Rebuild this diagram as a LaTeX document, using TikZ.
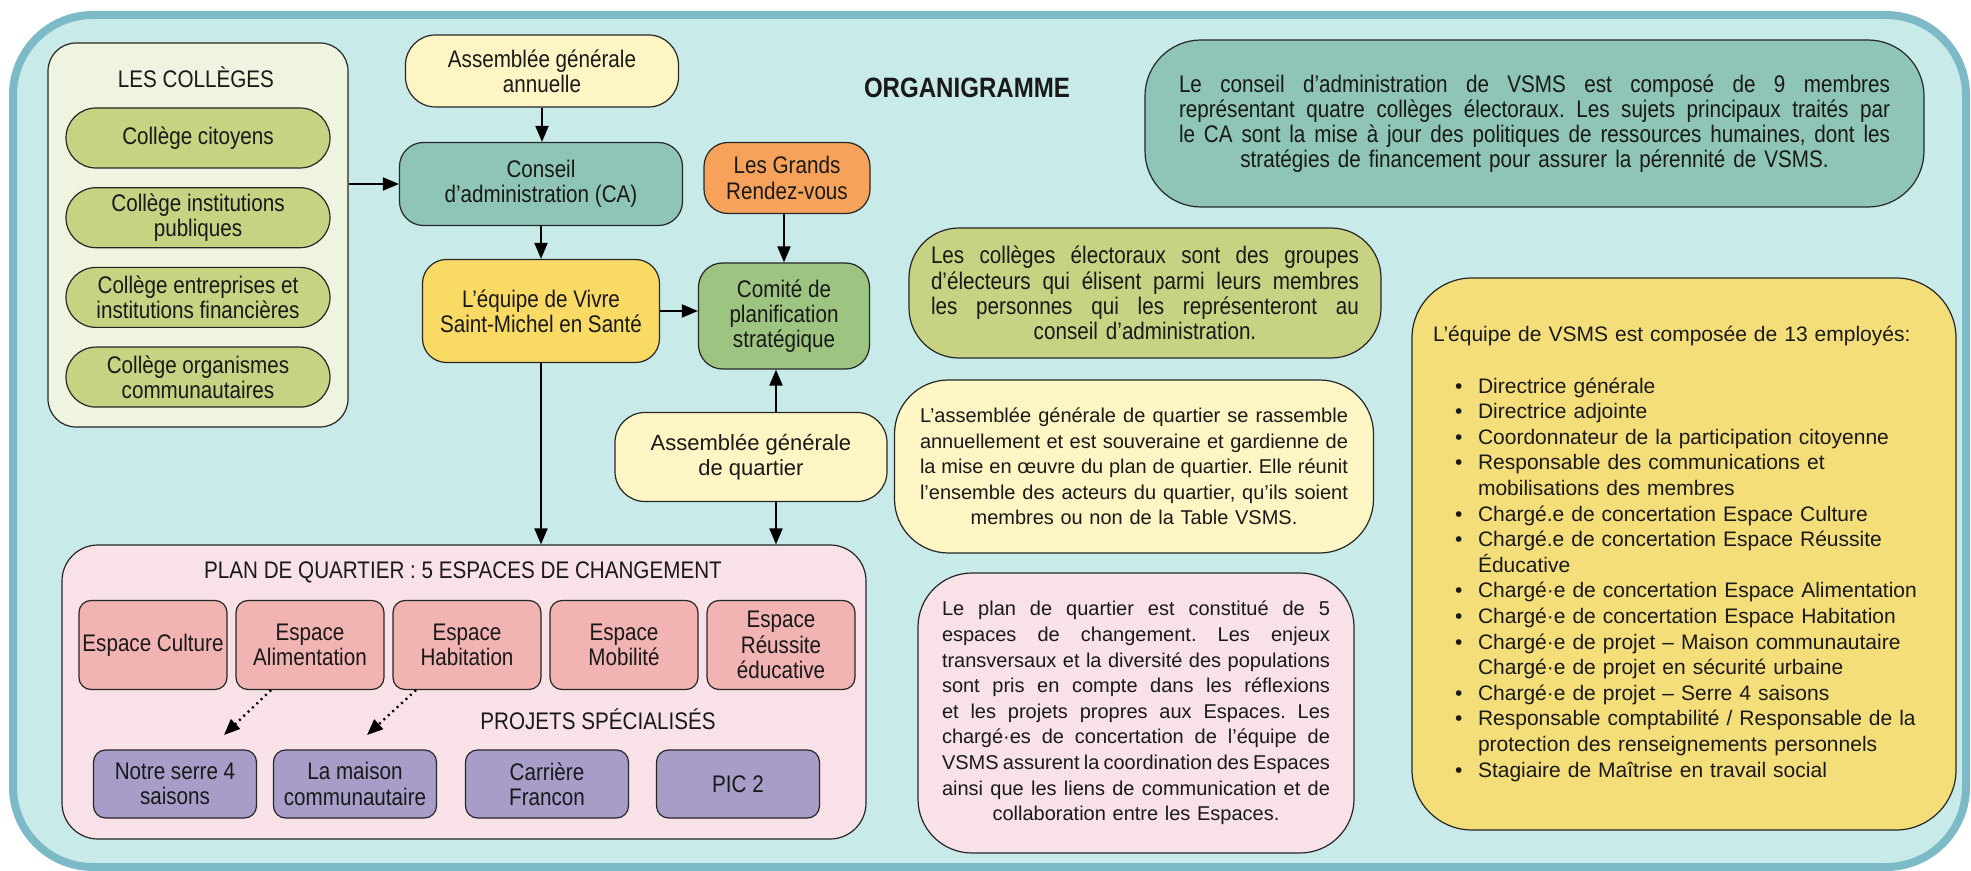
\documentclass[tikz,border=0pt]{standalone}
\usepackage{fontspec}
\setmainfont{Liberation Sans}
\newfontfamily\condfont[FakeStretch=0.86]{Liberation Sans}
\usetikzlibrary{arrows.meta, positioning}

\definecolor{cadre}{HTML}{7DBAC8}
\definecolor{fond}{HTML}{C8EAE9}
\definecolor{creme}{HTML}{EFF4E0}
\definecolor{olive}{HTML}{C8D283}
\definecolor{jaunepale}{HTML}{FDF5C3}
\definecolor{sarcelle}{HTML}{8EC5B6}
\definecolor{jaune}{HTML}{F9DA65}
\definecolor{orangegr}{HTML}{F7A25B}
\definecolor{vert}{HTML}{9DC581}
\definecolor{rose}{HTML}{F8E2E7}
\definecolor{saumon}{HTML}{F2B3B3}
\definecolor{lavande}{HTML}{A89DC9}
\definecolor{ocre}{HTML}{F4DE79}

\frenchspacing
\newcommand\condtxt{\condfont\fontsize{12pt}{12.6pt}\selectfont}
\newcommand\regtxt{\fontsize{10pt}{12.8pt}\selectfont}
% ligne justifiee (tikz fige les espaces avec align=center)
\newcommand\jline[1]{{\spaceskip=0pt\xspaceskip=0pt\makebox[\hsize][s]{#1}}}

\begin{document}
\begin{tikzpicture}[
  x=0.5pt, y=-0.5pt,
  box/.style={draw=black!85, line width=0.6pt, rounded corners=12pt, align=center,
              font=\condtxt, text=black!90, inner sep=2pt},
  capsule/.style={box, rounded corners=15pt},
  college/.style={capsule, fill=olive, minimum width=132pt, minimum height=30pt},
  espace/.style={box, fill=saumon, rounded corners=6pt, inner sep=1pt,
                 minimum width=74pt, minimum height=44.5pt},
  projet/.style={box, fill=lavande, rounded corners=6pt, minimum width=81.5pt, minimum height=34pt},
  panel/.style={draw=black!85, line width=0.6pt, rounded corners=14pt},
  note/.style={box, rounded corners=27pt, font=\regtxt},
  lbl/.style={font=\condtxt, text=black!90},
  arr/.style={-{Triangle[length=8pt,width=6.5pt]}, line width=1pt},
  dotarr/.style={arr, dotted, line width=1.2pt}
]
\useasboundingbox (0,0) rectangle (1971,871);
\draw[cadre, fill=fond, line width=4pt, rounded corners=40pt] (13,15) rectangle (1966,867);

% colleges
\node[panel, fill=creme, minimum width=150pt, minimum height=192pt] (colleges) at (198,235) {};
\node[lbl] (tcol) at (196,77) {LES COLLÈGES};
\node[college] (c1) at (198,138) {Collège citoyens};
\node[college, below=9.25pt of c1] (c2) {Collège institutions\\publiques};
\node[college, below=9.25pt of c2] (c3) {Collège entreprises et\\institutions financières};
\node[college, below=9.25pt of c3] (c4) {Collège organismes\\communautaires};

% instances
\node[capsule, fill=jaunepale, minimum width=136.5pt, minimum height=36pt] (aga) at (542,71) {Assemblée générale\\annuelle};
\node[box, fill=sarcelle, minimum width=141.5pt, minimum height=41.5pt] (ca) at (541,184) {Conseil\\d’administration (CA)};
\node[box, fill=jaune, minimum width=118.5pt, minimum height=51.5pt] (equipe) at (541,311) {L’équipe de Vivre\\Saint-Michel en Santé};
\node[box, fill=orangegr, minimum width=83pt, minimum height=35.5pt] (grv) at (787,178) {Les Grands\\Rendez-vous};
\node[box, fill=vert, minimum width=85.5pt, minimum height=53pt] (comite) at (784,316) {Comité de\\planification\\stratégique};
\node[capsule, fill=jaunepale, font=\fontsize{11pt}{12.5pt}\selectfont, minimum width=136pt, minimum height=44.5pt] (agq) at (751,457) {Assemblée générale\\de quartier};
\node[lbl, font=\condfont\bfseries\fontsize{14pt}{16pt}\selectfont] (titre) at (967,88) {ORGANIGRAMME};

% plan de quartier
\node[panel, fill=rose, rounded corners=18pt, minimum width=402pt, minimum height=147pt] (plan) at (464,692) {};
\node[lbl] (tplan) at (463,572) {PLAN DE QUARTIER : 5 ESPACES DE CHANGEMENT};
\node[espace] (cult) at (153,645) {Espace Culture};
\node[espace, right=3.9pt of cult] (alim) {Espace\\Alimentation};
\node[espace, right=3.9pt of alim] (hab) {Espace\\Habitation};
\node[espace, right=3.9pt of hab] (mob) {Espace\\Mobilité};
\node[espace, right=3.9pt of mob] (reus) {Espace\\Réussite\\éducative};
\node[lbl] (tproj) at (598,719) {PROJETS SPÉCIALISÉS};
\node[projet] (serre) at (175,784) {Notre serre 4\\saisons};
\node[projet] (maison) at (355,784) {La maison\\communautaire};
\node[projet] (carr) at (547,784) {Carrière\\Francon};
\node[projet] (pic) at (738,784) {PIC 2};
\coordinate (p1) at (224,735);
\coordinate (p2) at (367,735);

% notes
\node[note, fill=sarcelle, font=\condtxt, rounded corners=28pt, text width=355.5pt,
      minimum width=389.5pt, minimum height=83.5pt] (nca) at (1534.5,123.5)
  {\jline{Le conseil d’administration de VSMS est composé de 9 membres}\\
   \jline{représentant quatre collèges électoraux. Les sujets principaux traités par}\\
   \jline{le CA sont la mise à jour des politiques de ressources humaines, dont les}\\
   stratégies de financement pour assurer la pérennité de VSMS.};
\node[note, fill=olive, font=\condtxt, rounded corners=25pt, text width=214pt,
      minimum width=236pt, minimum height=65pt] (ncol) at (1145,293)
  {\jline{Les collèges électoraux sont des groupes}\\
   \jline{d’électeurs qui élisent parmi leurs membres}\\
   \jline{les personnes qui les représenteront au}\\
   conseil d’administration.};
\node[note, fill=jaunepale, text width=214pt, minimum width=239.5pt, minimum height=86.5pt] (nagq) at (1134,466.5)
  {\jline{L’assemblée générale de quartier se rassemble}\\
   \jline{annuellement et est souveraine et gardienne de}\\
   \jline{la mise en œuvre du plan de quartier. Elle réunit}\\
   \jline{l’ensemble des acteurs du quartier, qu’ils soient}\\
   membres ou non de la Table VSMS.};
\node[note, fill=rose, text width=194pt, minimum width=218pt, minimum height=140pt] (nplan) at (1136,713)
  {\jline{Le plan de quartier est constitué de 5}\\
   \jline{espaces de changement. Les enjeux}\\
   \jline{transversaux et la diversité des populations}\\
   \jline{sont pris en compte dans les réflexions}\\
   \jline{et les projets propres aux Espaces. Les}\\
   \jline{chargé·es de concertation de l’équipe de}\\
   \jline{VSMS assurent la coordination des Espaces}\\
   \jline{ainsi que les liens de communication et de}\\
   collaboration entre les Espaces.};
\node[note, fill=ocre, rounded corners=30pt, align=left, font=\fontsize{10.5pt}{12.8pt}\selectfont,
      text width=251pt, minimum width=272pt, minimum height=276pt] (nequipe) at (1684,554)
  {L’équipe de VSMS est composée de 13 employés:\\[12.8pt]
   \hspace*{11pt}\makebox[11.5pt][l]{•}Directrice générale\\
   \hspace*{11pt}\makebox[11.5pt][l]{•}Directrice adjointe\\
   \hspace*{11pt}\makebox[11.5pt][l]{•}Coordonnateur de la participation citoyenne\\
   \hspace*{11pt}\makebox[11.5pt][l]{•}Responsable des communications et\\
   \hspace*{22.5pt}mobilisations des membres\\
   \hspace*{11pt}\makebox[11.5pt][l]{•}Chargé.e de concertation Espace Culture\\
   \hspace*{11pt}\makebox[11.5pt][l]{•}Chargé.e de concertation Espace Réussite\\
   \hspace*{22.5pt}Éducative\\
   \hspace*{11pt}\makebox[11.5pt][l]{•}Chargé·e de concertation Espace Alimentation\\
   \hspace*{11pt}\makebox[11.5pt][l]{•}Chargé·e de concertation Espace Habitation\\
   \hspace*{11pt}\makebox[11.5pt][l]{•}Chargé·e de projet – Maison communautaire\\
   \hspace*{22.5pt}Chargé·e de projet en sécurité urbaine\\
   \hspace*{11pt}\makebox[11.5pt][l]{•}Chargé·e de projet – Serre 4 saisons\\
   \hspace*{11pt}\makebox[11.5pt][l]{•}Responsable comptabilité / Responsable de la\\
   \hspace*{22.5pt}protection des renseignements personnels\\
   \hspace*{11pt}\makebox[11.5pt][l]{•}Stagiaire de Maîtrise en travail social};

% fleches
\draw[arr] (colleges.east |- ca.west) -- (ca.west);
\draw[arr] (aga.south) -- (aga.south |- ca.north);
\draw[arr] (ca.south) -- (ca.south |- equipe.north);
\draw[arr] (equipe.east) -- (equipe.east -| comite.west);
\draw[arr] (comite.north |- grv.south) -- (comite.north);
\draw[arr] ([xshift=12.5pt]agq.north) -- ([xshift=12.5pt]agq.north |- comite.south);
\draw[arr] ([xshift=12.5pt]agq.south) -- ([xshift=12.5pt]agq.south |- plan.north);
\draw[arr] (equipe.south) -- (equipe.south |- plan.north);
\draw[dotarr] ([xshift=-19.5pt]alim.south) -- (p1);
\draw[dotarr] ([xshift=-25.5pt]hab.south) -- (p2);
\end{tikzpicture}
\end{document}
